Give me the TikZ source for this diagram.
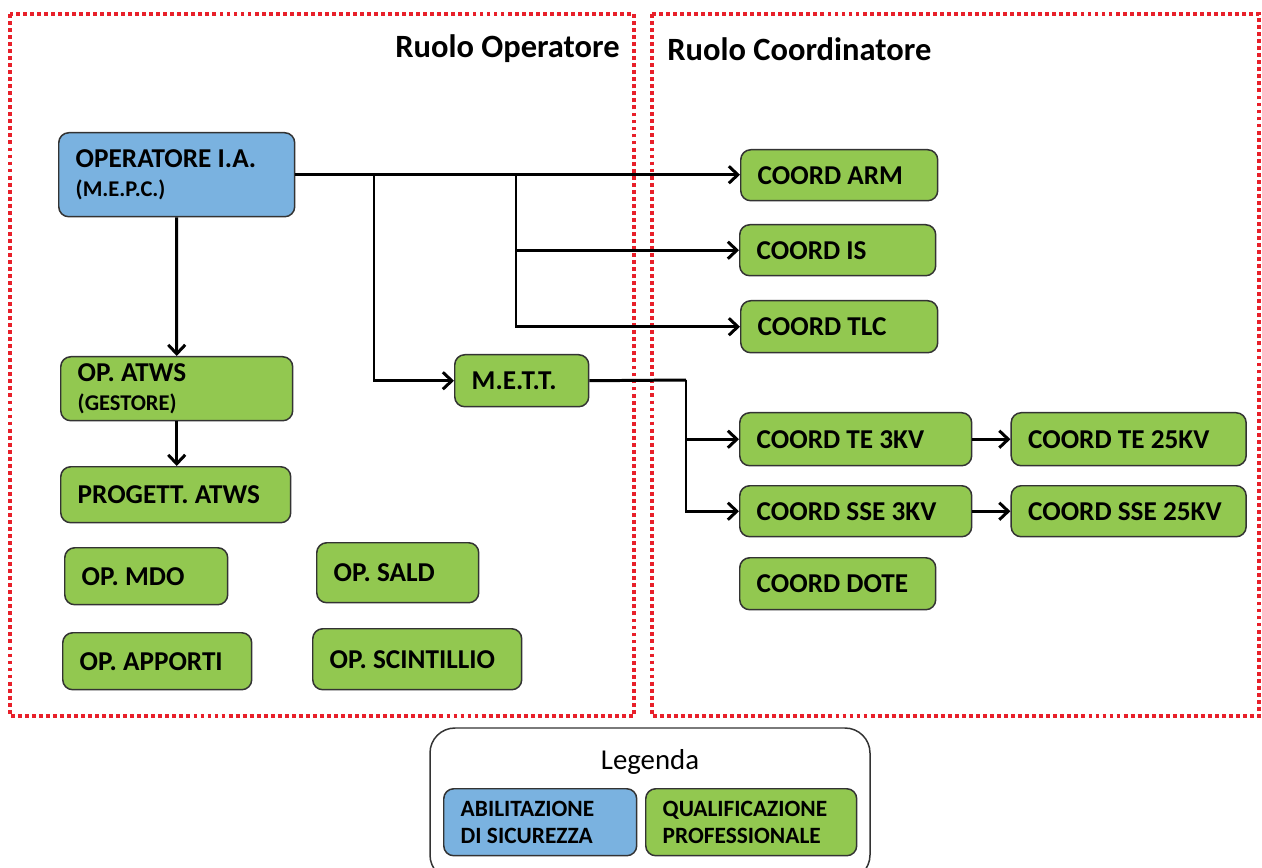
\documentclass[tikz,border=0pt]{standalone}
\usepackage{fontspec}
\setmainfont{Carlito}
\usepackage{tikz}
\usetikzlibrary{positioning}
\usetikzlibrary{calc}
\usetikzlibrary{arrows.meta}
\definecolor{abilblue}{HTML}{7AB2E0}
\definecolor{qualgreen}{HTML}{92C850}
\definecolor{boxline}{HTML}{333333}
\definecolor{framered}{HTML}{E8202A}
\tikzset{
	rolebox/.style={draw=boxline, line width=0.85pt, rounded corners=0.2cm, anchor=north west, align=flush left, inner xsep=0.34cm, inner ysep=0pt, font=\bfseries\frenchspacing\fontsize{15.5}{17}\selectfont},
	abil/.style={rolebox, fill=abilblue},
	qual/.style={rolebox, fill=qualgreen},
	link/.style={line width=1.7pt, -{Straight Barb[length=1.8mm,width=3.4mm]}},
	roleframe/.style={draw=framered, line width=2.3pt, dash pattern=on 2.2pt off 1.8pt},
}
\newcommand{\subline}[1]{{\fontsize{12.8}{14}\selectfont #1}}

\begin{document}
\begin{tikzpicture}[x=0.02cm, y=-0.02cm]
	\useasboundingbox (0,0) rectangle (1262,868);
	\draw[roleframe] (10,14) rectangle (634,716); \draw[roleframe] (652,14) rectangle (1259,716);
	\node[anchor=east, inner sep=0pt, font=\bfseries\fontsize{18.5}{20}\selectfont] at (620,49) (0op) {Ruolo Operatore}; \node[anchor=west, inner sep=0pt, font=\bfseries\fontsize{18.5}{20}\selectfont] at (667,49) (0coord) {Ruolo Coordinatore};

	\node[abil, text width=4.04cm, minimum height=1.68cm] at (58,132) (1opia) {OPERATORE I.A.\\\subline{(M.E.P.C.)}};
	\node[qual, text width=3.96cm, minimum height=1.28cm] at (60,356) (2atws) {OP. ATWS\\\subline{(GESTORE)}}; \node[qual, text width=2.0cm, minimum height=1.04cm] at (454,354) (2mett) {M.E.T.T.};
	\node[qual, text width=3.92cm, minimum height=1.12cm] at (60,466) (3progatws) {PROGETT. ATWS};
	\node[qual, text width=2.58cm, minimum height=1.14cm] at (64,547) (3mdo) {OP. MDO}; \node[qual, text width=2.56cm, minimum height=1.2cm] at (316,542) (3sald) {OP. SALD};
	\node[qual, text width=3.10cm, minimum height=1.14cm] at (62,632) (3apporti) {OP. APPORTI}; \node[qual, text width=3.5cm, minimum height=1.22cm] at (312,628) (3scint) {OP. SCINTILLIO};

	\node[qual, text width=3.26cm, minimum height=1.02cm] at (740,149) (2arm) {COORD ARM};
	\node[qual, text width=3.24cm, minimum height=1.02cm] at (739,224) (2is) {COORD IS};
	\node[qual, text width=3.26cm, minimum height=1.04cm] at (740,300) (2tlc) {COORD TLC};
	\node[qual, text width=3.96cm, minimum height=1.06cm] at (739,412) (3te3) {COORD TE 3KV}; \node[qual, text width=4.02cm, minimum height=1.06cm, right=0.76cm of 3te3] (4te25) {COORD TE 25KV};
	\node[qual, text width=3.96cm, minimum height=1.02cm] at (739,485) (3sse3) {COORD SSE 3KV}; \node[qual, text width=4.02cm, minimum height=1.02cm, right=0.76cm of 3sse3] (4sse25) {COORD SSE 25KV};
	\node[qual, text width=3.24cm, minimum height=1.04cm] at (739,557) (3dote) {COORD DOTE};

	\coordinate (j1) at (374,174); \coordinate (j2) at (516,174); \coordinate (j3) at (686,380);
	\draw[link] (1opia.east) -- (1opia.east -| 2arm.west); \draw[link] (j1) |- (2mett.west); \draw[link] (j2) |- (2is.west); \draw[link] (j2) |- (2tlc.west);
	\draw[link] (1opia.south) -- (2atws.north); \draw[link] (2atws.south) -- (2atws.south |- 3progatws.north);
	\draw[line width=1.7pt] (2mett.east) -- (j3); \draw[link] (j3) |- (3te3.west); \draw[link] (j3) |- (3sse3.west);
	\draw[link] (3te3) -- (4te25); \draw[link] (3sse3) -- (4sse25);

	% legenda
	\draw[boxline, line width=0.85pt, rounded corners=0.5cm] (430,728) rectangle (870,880);
	\node[font=\fontsize{16.4}{18}\selectfont] at (650,762) (legtitle) {Legenda};
	\node[abil, text width=3.18cm, minimum height=1.34cm, font=\bfseries\frenchspacing\fontsize{13.3}{15.5}\selectfont] at (443,788) (legabil) {ABILITAZIONE\\DI SICUREZZA}; \node[qual, text width=3.54cm, minimum height=1.34cm, font=\bfseries\frenchspacing\fontsize{13.3}{15.5}\selectfont] at (645,788) (legqual) {QUALIFICAZIONE\\PROFESSIONALE};
\end{tikzpicture}
\end{document}
